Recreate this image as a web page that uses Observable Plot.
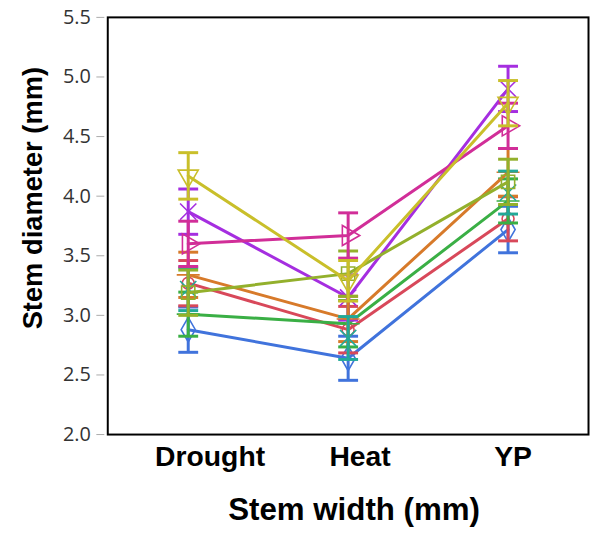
<!DOCTYPE html>
<html>
<head>
<meta charset="utf-8">
<script src="https://cdn.jsdelivr.net/npm/d3@7"></script>
<script src="https://cdn.jsdelivr.net/npm/@observablehq/plot@0.6"></script>
<style>
  html, body { margin: 0; padding: 0; background: #fff; }
  #wrap { width: 590px; height: 533px; overflow: hidden; position: relative; }
</style>
</head>
<body>
<div id="wrap"></div>
<script>
// ---- data ----
const conditions = ["Drought", "Heat", "YP"];
const genotypes = ["G1", "G2", "G3", "G4", "G5", "G6", "G7", "G8", "G9"];
const meansDrought = [2.88, 3.27, 3.01, 3.87, 3.34, 3.22, 3.19, 3.60, 4.17];
const meansHeat    = [2.64, 2.88, 2.93, 3.15, 2.97, 2.81, 3.35, 3.67, 3.29];
const meansYP      = [3.72, 3.81, 3.96, 4.90, 4.20, 4.03, 4.12, 4.59, 4.78];
const errDrought   = [0.19, 0.19, 0.185, 0.19, 0.19, 0.18, 0.19, 0.19, 0.195];
const errHeat      = [0.185, 0.195, 0.195, 0.19, 0.19, 0.18, 0.19, 0.19, 0.17];
const errYP        = [0.195, 0.185, 0.185, 0.19, 0.20, 0.18, 0.19, 0.19, 0.19];
const yTicks = [2.0, 2.5, 3.0, 3.5, 4.0, 4.5, 5.0, 5.5];
const yTitle = "Stem diameter (mm)";
const xTitle = "Stem width (mm)";

// ---- styles ----
const colors  = ["#4073dc", "#d8485a", "#3aaf45", "#a52ee0", "#d77a2a", "#22a998", "#93b02c", "#d12e98", "#c9bf2a"];
const symbols = ["diamond", "circle", "plus", "times", "plus", "times", "square", "triangle", "triangle"];
const rotates = [0, 0, 0, 0, 0, 0, 0, 90, 180];
const showLine = [true, true, true, true, true, false, true, true, true];
const labelDx = [22, 12, 5];

const meansBy = [meansDrought, meansHeat, meansYP];
const errsBy = [errDrought, errHeat, errYP];

const capSymbol = {
  draw(ctx) { ctx.moveTo(-10, 0); ctx.lineTo(10, 0); }
};

const marks = [];
genotypes.forEach((g, i) => {
  const rows = conditions.map((c, j) => ({g, cond: c, mean: meansBy[j][i], err: errsBy[j][i]}));
  const color = colors[i];
  if (showLine[i]) {
    marks.push(Plot.line(rows, {x: "cond", y: "mean", stroke: color, strokeWidth: 3}));
  }
  marks.push(Plot.ruleX(rows, {x: "cond", y1: d => d.mean - d.err, y2: d => d.mean + d.err, stroke: color, strokeWidth: 3}));
  marks.push(Plot.dot(rows, {x: "cond", y: d => d.mean + d.err, symbol: capSymbol, stroke: color, strokeWidth: 3, r: 5}));
  marks.push(Plot.dot(rows, {x: "cond", y: d => d.mean - d.err, symbol: capSymbol, stroke: color, strokeWidth: 3, r: 5}));
  marks.push(Plot.dot(rows, {x: "cond", y: "mean", symbol: symbols[i], rotate: rotates[i], stroke: color, fill: "none", strokeWidth: 1.6, r: symbols[i] === "circle" ? 6 : 7.5}));
});

conditions.forEach((c, j) => {
  marks.push(Plot.text([c], {x: d => d, frameAnchor: "bottom", dy: 23, dx: labelDx[j], fontSize: 28.5, fontWeight: "bold", fontFamily: "Liberation Sans, Arial, sans-serif", fill: "#000", lineAnchor: "middle"}));
});

marks.push(Plot.text([xTitle], {frameAnchor: "bottom", dy: 76, dx: 6, fontSize: 31.5, fontWeight: "bold", fontFamily: "Liberation Sans, Arial, sans-serif", fill: "#000", lineAnchor: "middle"}));
marks.push(Plot.text([yTitle], {frameAnchor: "left", dx: -75, dy: -28, rotate: -90, fontSize: 27.5, fontWeight: "bold", fontFamily: "Liberation Sans, Arial, sans-serif", fill: "#000", lineAnchor: "middle", textAnchor: "middle"}));

marks.push(Plot.axisY({ticks: yTicks, tickFormat: d3.format(".1f"), tickSize: 8, tickPadding: 6, dx: -3, stroke: "#aaa", fill: "#333", fontSize: 20, fontFamily: "Open Sans, Noto Sans, sans-serif", label: null}));
marks.push(Plot.frame({stroke: "#000", strokeWidth: 2}));

const chart = Plot.plot({
  width: 594,
  height: 533,
  marginLeft: 108,
  marginRight: 2,
  marginTop: 17,
  marginBottom: 96,
  style: {background: "#fff", overflow: "visible"},
  x: {type: "point", domain: conditions, padding: 0.494, axis: null},
  y: {domain: [2, 5.5], axis: null},
  marks
});
document.getElementById("wrap").appendChild(chart);
</script>
</body>
</html>
